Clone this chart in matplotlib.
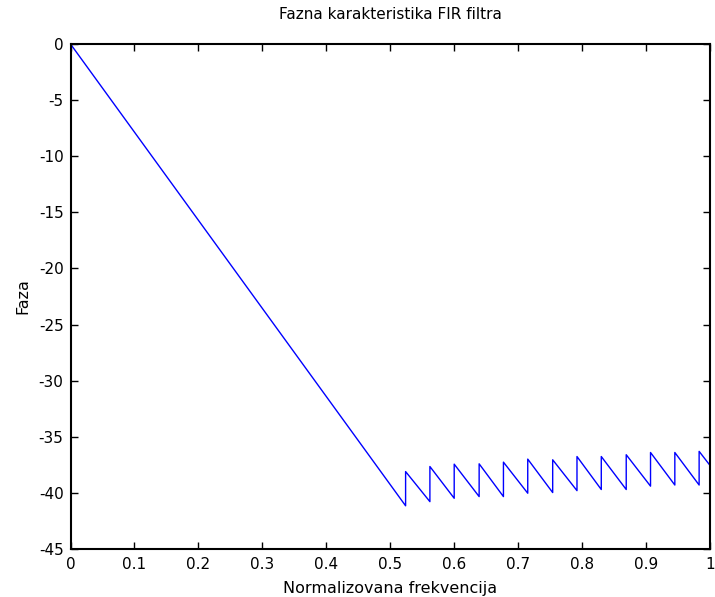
import matplotlib
matplotlib.use("Agg")
import matplotlib.pyplot as plt

# linear part of the phase (passband)
pass_x = [0.0, 0.524]
pass_y = [0.0, -41.15]

# stopband sawtooth: where the pi jumps happen, value before and after each jump
jump_x = [0.524, 0.562, 0.600, 0.639, 0.677, 0.715, 0.754,
          0.792, 0.830, 0.869, 0.907, 0.945, 0.983]
bottom_y = [-41.15, -40.78, -40.48, -40.33, -40.33, -40.03, -39.97,
            -39.80, -39.70, -39.70, -39.40, -39.30, -39.30]
top_y = [-38.10, -37.65, -37.44, -37.41, -37.26, -36.99, -37.05,
         -36.76, -36.76, -36.60, -36.40, -36.40, -36.30]
end_x, end_y = 1.0, -37.55

xticks = [0, 0.1, 0.2, 0.3, 0.4, 0.5, 0.6, 0.7, 0.8, 0.9, 1]
xticklabels = ['0', '0.1', '0.2', '0.3', '0.4', '0.5', '0.6', '0.7', '0.8', '0.9', '1']
yticks = [0, -5, -10, -15, -20, -25, -30, -35, -40, -45]

# build the polyline
xs = list(pass_x)
ys = list(pass_y)
for i in range(len(jump_x)):
    if i > 0:
        xs.append(jump_x[i])
        ys.append(bottom_y[i])
    xs.append(jump_x[i])
    ys.append(top_y[i])
xs.append(end_x)
ys.append(end_y)

plt.rcParams['font.family'] = ['DejaVu Sans']
plt.rcParams['axes.unicode_minus'] = False

fig = plt.figure(figsize=(7.15, 5.97), dpi=100)
ax = fig.add_axes([70.5 / 715, 1 - 549 / 597, 639.5 / 715, (549 - 44) / 597])
ax.plot(xs, ys, color='#0000ff', linewidth=1.0)

ax.set_xlim(0, 1)
ax.set_ylim(-45, 0)
ax.set_xticks(xticks)
ax.set_xticklabels(xticklabels)
ax.set_yticks(yticks)
ax.tick_params(direction='in', length=5, width=1, labelsize=11, top=True, right=True,
               labeltop=False, labelright=False)
ax.tick_params(axis='x', pad=6)
ax.tick_params(axis='y', pad=5)
for s in ax.spines.values():
    s.set_linewidth(1.5)

ax.set_title('Fazna karakteristika FIR filtra', fontsize=11, pad=18)
ax.set_xlabel('Normalizovana frekvencija', fontsize=11.5, labelpad=6)
ax.set_ylabel('Faza', fontsize=11.5, labelpad=6)

fig.savefig('out.png', dpi=100)
